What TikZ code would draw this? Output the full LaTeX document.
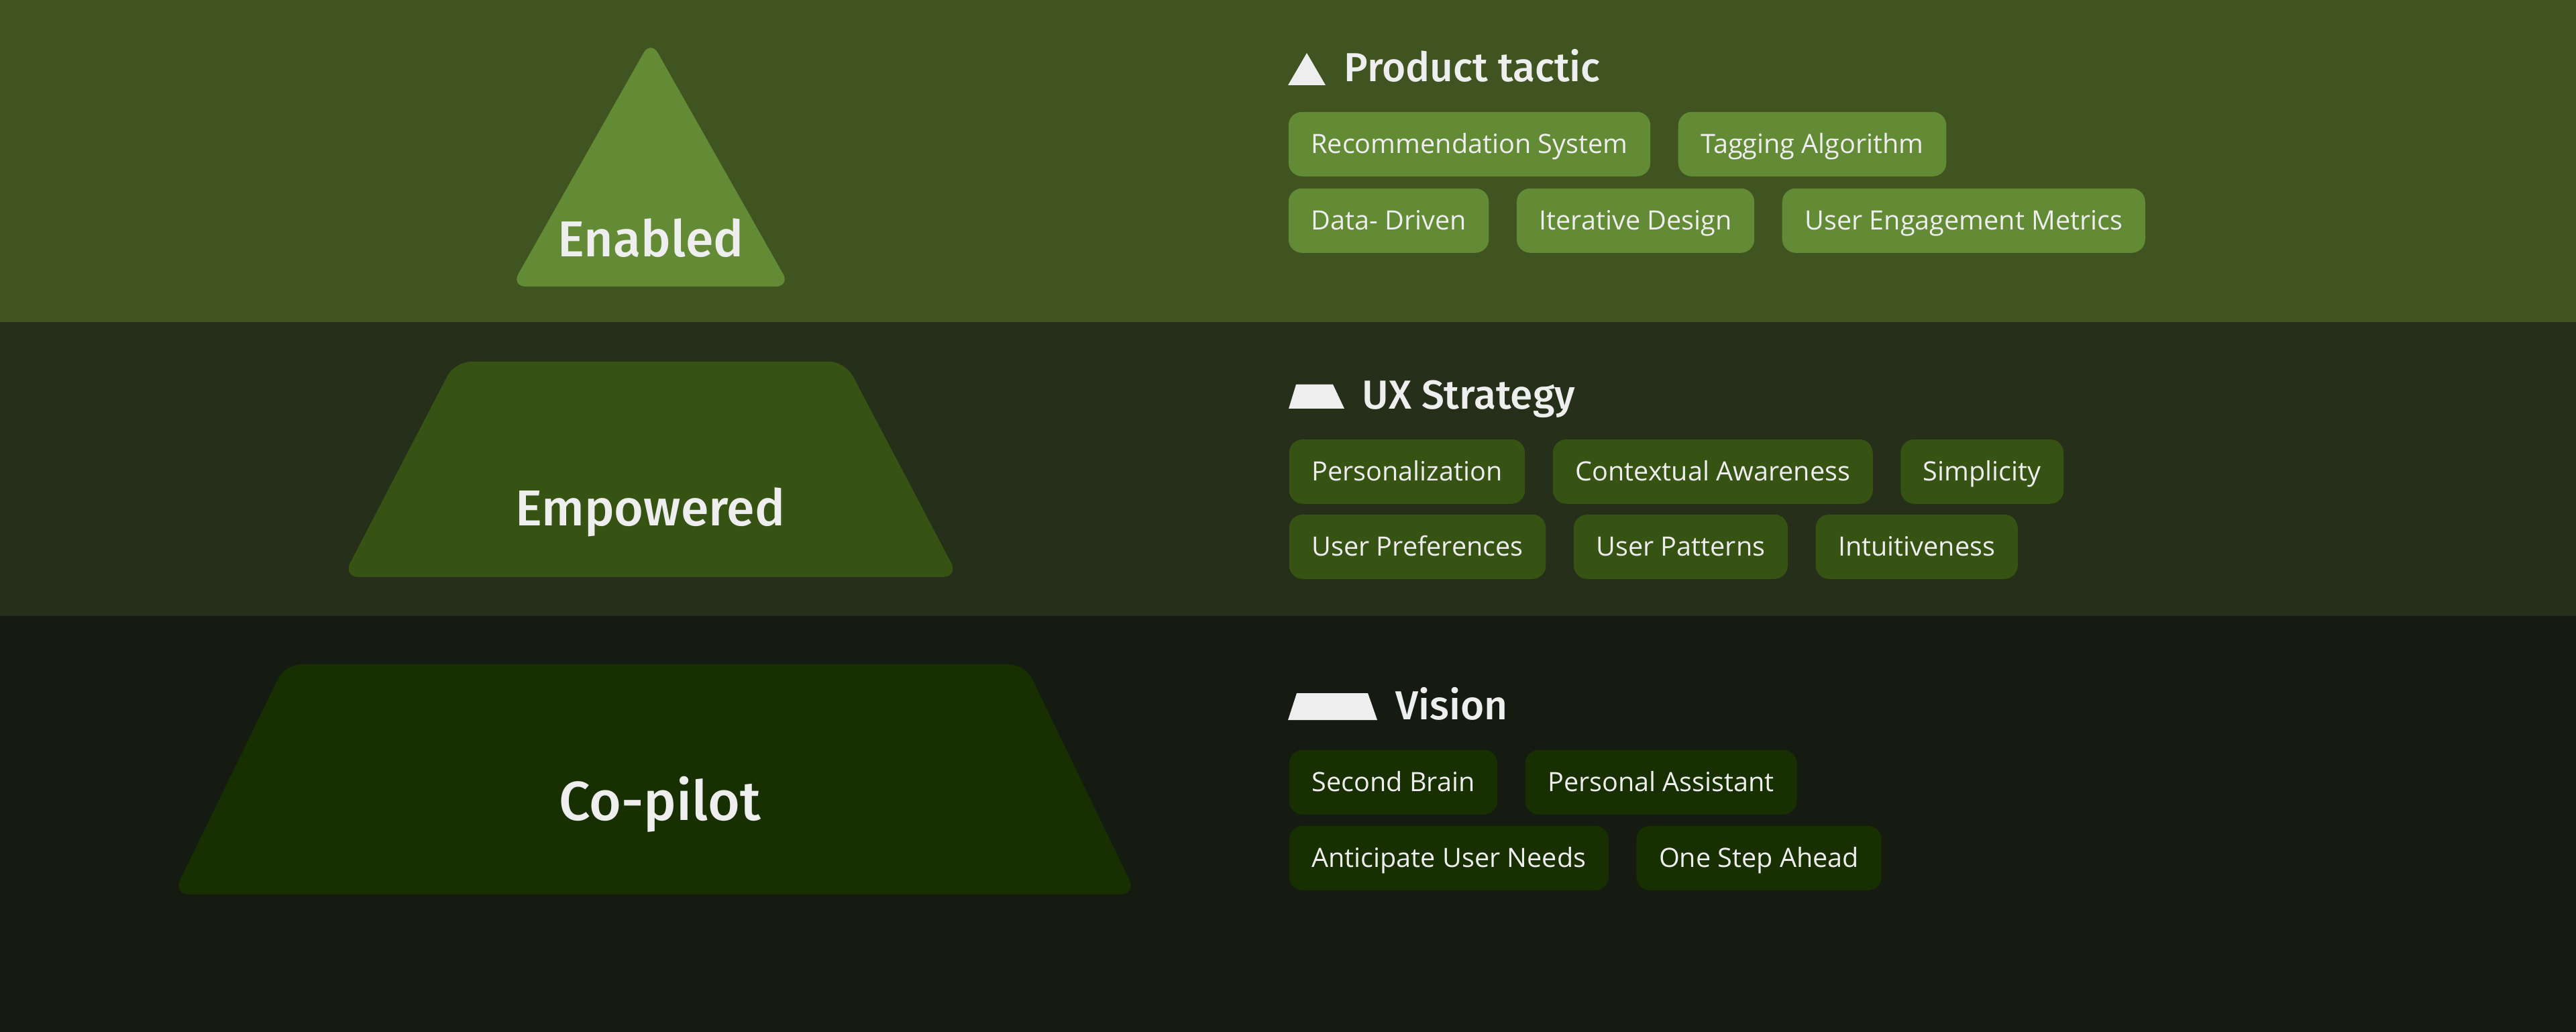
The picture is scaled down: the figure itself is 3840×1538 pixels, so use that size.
\documentclass[tikz,border=0pt]{standalone}
\usepackage{fontspec}
\setmainfont{Open Sans}
\newfontfamily\titlefont{Fira Sans}[UprightFont=* Medium]
\usetikzlibrary{positioning}
\definecolor{bandA}{HTML}{405422}
\definecolor{shapeA}{HTML}{638A34}
\definecolor{bandB}{HTML}{262F1A}
\definecolor{shapeB}{HTML}{375313}
\definecolor{bandC}{HTML}{161B12}
\definecolor{shapeC}{HTML}{182F02}
\definecolor{txt}{HTML}{EEEEEE}
\begin{document}
\begin{tikzpicture}[x=0.25pt,y=-0.25pt,
  chip/.style={rounded corners=5pt, minimum height=24pt, inner xsep=8.4pt, inner ysep=0pt,
    text height=7pt, text depth=0pt, font=\fontsize{9.9}{12}\selectfont, text=txt, anchor=north west},
  titletext/.style={font=\titlefont\fontsize{15.1}{18}\selectfont, text=txt, anchor=base west, inner sep=0pt},
  biglabel/.style={font=\titlefont\fontsize{18.8}{22}\selectfont, text=txt, anchor=base, inner sep=0pt},
  gap/.style={right=10pt of #1}
]
\useasboundingbox (0,0) rectangle (3840,1538);
% bands
\fill[bandA] (0,0) rectangle (3840,480);
\fill[bandB] (0,480) rectangle (3840,918);
\fill[bandC] (0,918) rectangle (3840,1538);
% pyramid levels
\fill[shapeA, rounded corners=5.5pt] (762,427) -- (970,60) -- (1178,427) -- cycle;
\fill[shapeB, rounded corners=6pt] (511,860) -- (678,539) -- (1260,539) -- (1429,860) -- cycle;
\fill[shapeC, rounded corners=6pt] (258,1333) -- (425,990) -- (1528,990) -- (1694,1333) -- cycle;
\node[biglabel] (enabled) at (970,383) {Enabled};
\node[biglabel] (empowered) at (969,784) {Empowered};
\node[biglabel, font=\titlefont\fontsize{20.5}{24}\selectfont] (copilot) at (984,1222) {Co-pilot};
% icons
\fill[txt] (1920,127) -- (1948,79) -- (1976,127) -- cycle;
\fill[txt] (1921,609) -- (1932,573) -- (1987,573) -- (2004,609) -- cycle;
\fill[txt] (1920,1073) -- (1933,1033) -- (2039,1033) -- (2053,1073) -- cycle;
% titles
\node[titletext] (t1) at (2003,122) {Product tactic};
\node[titletext] (t2) at (2030,610) {UX Strategy};
\node[titletext] (t3) at (2080,1072) {Vision};
% chips band A
\node[chip, fill=shapeA] (a1) at (1920,166) {Recommendation System};
\node[chip, fill=shapeA, gap=a1] (a2) {Tagging Algorithm};
\node[chip, fill=shapeA] (a3) at (1920,280) {Data- Driven};
\node[chip, fill=shapeA, gap=a3] (a4) {Iterative Design};
\node[chip, fill=shapeA, gap=a4] (a5) {User Engagement Metrics};
% chips band B
\node[chip, fill=shapeB] (b1) at (1921,654) {Personalization};
\node[chip, fill=shapeB, gap=b1] (b2) {Contextual Awareness};
\node[chip, fill=shapeB, gap=b2] (b3) {Simplicity};
\node[chip, fill=shapeB] (b4) at (1921,766) {User Preferences};
\node[chip, fill=shapeB, gap=b4] (b5) {User Patterns};
\node[chip, fill=shapeB, gap=b5] (b6) {Intuitiveness};
% chips band C
\node[chip, fill=shapeC] (c1) at (1921,1117) {Second Brain};
\node[chip, fill=shapeC, gap=c1] (c2) {Personal Assistant};
\node[chip, fill=shapeC] (c3) at (1921,1230) {Anticipate User Needs};
\node[chip, fill=shapeC, gap=c3] (c4) {One Step Ahead};
\end{tikzpicture}
\end{document}
